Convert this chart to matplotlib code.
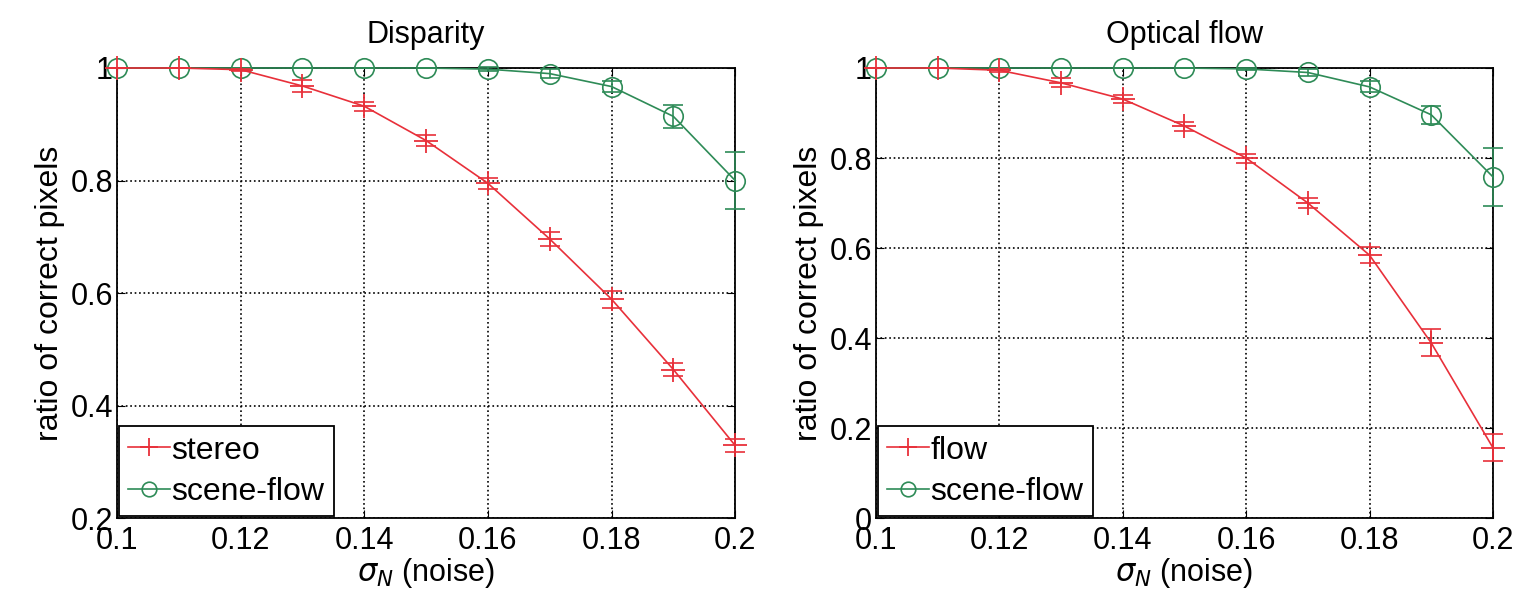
import matplotlib.pyplot as plt
import numpy as np
from matplotlib.ticker import FormatStrFormatter

plt.rcParams['font.family'] = ['Liberation Sans', 'DejaVu Sans']

noise = [0.10, 0.11, 0.12, 0.13, 0.14, 0.15, 0.16, 0.17, 0.18, 0.19, 0.20]

# Disparity panel
stereo = [1.0, 1.0, 0.997, 0.968, 0.932, 0.871, 0.795, 0.696, 0.589, 0.464, 0.329]
stereo_err = [0, 0, 0.002, 0.01, 0.008, 0.01, 0.01, 0.012, 0.015, 0.012, 0.012]
sf_disp = [1.0, 1.0, 1.0, 1.0, 1.0, 1.0, 0.998, 0.99, 0.967, 0.914, 0.80]
sf_disp_err = [0, 0, 0, 0, 0, 0, 0.003, 0.008, 0.01, 0.02, 0.05]

# Optical flow panel
flow = [1.0, 1.0, 0.995, 0.967, 0.931, 0.871, 0.80, 0.70, 0.584, 0.389, 0.156]
flow_err = [0, 0, 0.003, 0.01, 0.008, 0.01, 0.01, 0.012, 0.018, 0.03, 0.03]
sf_flow = [1.0, 1.0, 1.0, 1.0, 1.0, 1.0, 0.998, 0.99, 0.958, 0.896, 0.758]
sf_flow_err = [0, 0, 0, 0, 0, 0, 0.003, 0.008, 0.012, 0.02, 0.065]

red = '#e8303a'
green = '#2e8b57'

fig = plt.figure(figsize=(15.3, 5.97), dpi=100)
ax1 = fig.add_axes([0.0765, 0.1323, 0.404, 0.7538])
ax2 = fig.add_axes([0.5725, 0.1323, 0.4033, 0.7538])


def panel(ax, title, red_vals, red_err, red_name, grn_vals, grn_err, ylo, yticks):
    # error bars first, then lines with markers (used for the legend)
    ax.errorbar(noise, red_vals, yerr=red_err, fmt='none', ecolor=red,
                capsize=7, elinewidth=1.2, capthick=1.2, clip_on=False, zorder=4)
    ax.errorbar(noise, grn_vals, yerr=grn_err, fmt='none', ecolor=green,
                capsize=7, elinewidth=1.2, capthick=1.2, clip_on=False, zorder=3)
    ax.plot(noise, red_vals, color=red, marker='+', ms=17, mew=1.3, lw=1.2,
            label=red_name, clip_on=False, zorder=4)
    ax.plot(noise, grn_vals, color=green, marker='o', ms=14, mfc='none', mew=1.2,
            lw=1.2, label='scene-flow', clip_on=False, zorder=3)
    ax.set_xlim(0.1, 0.2)
    ax.set_ylim(ylo, 1)
    ax.set_xticks([0.1, 0.12, 0.14, 0.16, 0.18, 0.2])
    ax.set_yticks(yticks)
    ax.xaxis.set_major_formatter(FormatStrFormatter('%g'))
    ax.yaxis.set_major_formatter(FormatStrFormatter('%g'))
    ax.grid(True, color='black', linestyle=':', linewidth=1.2)
    ax.tick_params(direction='in', labelsize=22, length=6, top=True, right=True)
    ax.tick_params(axis='x', pad=6)
    ax.tick_params(axis='y', pad=3)
    for s in ax.spines.values():
        s.set_linewidth(1.3)
    ax.set_title(title, fontsize=22, pad=18)
    ax.set_xlabel(r'$\sigma_N$ (noise)', fontsize=22, labelpad=0)
    ax.set_ylabel('ratio of correct pixels', fontsize=23, labelpad=4)
    leg = ax.legend(loc='lower left', fontsize=23, fancybox=False, framealpha=1,
                    edgecolor='black', borderaxespad=0.05, handlelength=1.3,
                    handletextpad=0.05, borderpad=0.3, labelspacing=0.35,
                    markerscale=0.75)
    leg.get_frame().set_linewidth(1.3)


panel(ax1, 'Disparity', stereo, stereo_err, 'stereo', sf_disp, sf_disp_err,
      0.2, [0.2, 0.4, 0.6, 0.8, 1.0])
panel(ax2, 'Optical flow', flow, flow_err, 'flow', sf_flow, sf_flow_err,
      0.0, [0, 0.2, 0.4, 0.6, 0.8, 1.0])

fig.savefig('out.png', dpi=100)
